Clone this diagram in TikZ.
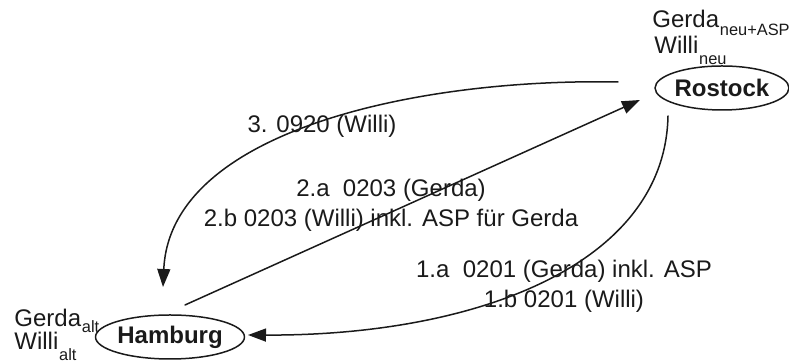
\documentclass[tikz,border=0pt]{standalone}
\usepackage{fontspec}
\setmainfont{Liberation Sans}
\usepackage{xcolor}
\usetikzlibrary{arrows.meta,shapes.geometric}
\definecolor{mvInk}{HTML}{1A1A1A}
\tikzset{
  mv diagram/.style={font=\fontsize{12}{15}\selectfont, text=mvInk,
    line cap=round, line join=round},
  mv city/.style={ellipse, draw=mvInk, line width=0.75pt, minimum width=66pt,
    minimum height=22pt, inner sep=0pt, font=\fontsize{12}{15}\selectfont\bfseries},
  mv holder/.style={anchor=base west, inner sep=0pt, font=\fontsize{12}{15}\selectfont},
  mv sub/.style={anchor=base west, inner sep=0pt, font=\fontsize{8.2}{10}\selectfont},
  mv label/.style={align=center, inner sep=0pt},
  mv arrow/.style={-{Triangle[length=9pt,width=6.5pt]}, draw=mvInk, line width=0.75pt}
}

\begin{document}
\begin{tikzpicture}[mv diagram,x=0.5pt,y=-0.5pt]
\useasboundingbox (0,0) rectangle (789,362);
% Orte mit Versicherten
\node[mv city] (hh) at (170,337) {Hamburg};
\node[mv city] (ro) at (722,88) {Rostock};
\node[mv holder] (hhGerda) at (14,327) {Gerda};
\node[mv sub] (hhGerdaSub) at ([yshift=-3pt]hhGerda.base east) {alt};
\node[mv holder] (hhWilli) at (14,350) {Willi};
\node[mv sub] (hhWilliSub) at ([yshift=-5.5pt]hhWilli.base east) {alt};
\node[mv holder] (roGerda) at (652,28) {Gerda};
\node[mv sub] (roGerdaSub) at ([yshift=-4pt]roGerda.base east) {neu+ASP};
\node[mv holder] (roWilli) at (654,54) {Willi};
\node[mv sub] (roWilliSub) at ([yshift=-5.5pt]roWilli.base east) {neu};
% Meldungen
\node[mv label] (msg3) at (322,126) {3. 0920 (Willi)};
\node[mv label] (msg2) at (391,205) {2.a~ 0203 (Gerda)\\2.b 0203 (Willi) inkl. ASP für Gerda};
\node[mv label] (msg1) at (564,286) {1.a~ 0201 (Gerda) inkl. ASP\\1.b 0201 (Willi)};
% Pfeilenden
\coordinate (roOut3) at (618,82);
\coordinate (hhIn3) at (163,287);
\coordinate (hhOut2) at (185,305);
\coordinate (roIn2) at (640,100);
\coordinate (roOut1) at (668,116);
\coordinate (hhIn1) at (248,335);
\draw[mv arrow] (roOut3) .. controls (420,78) and (170,130) .. (hhIn3);
\draw[mv arrow] (hhOut2) -- (roIn2);
\draw[mv arrow] (roOut1) .. controls (665,265) and (475,336) .. (hhIn1);
\end{tikzpicture}
\end{document}
